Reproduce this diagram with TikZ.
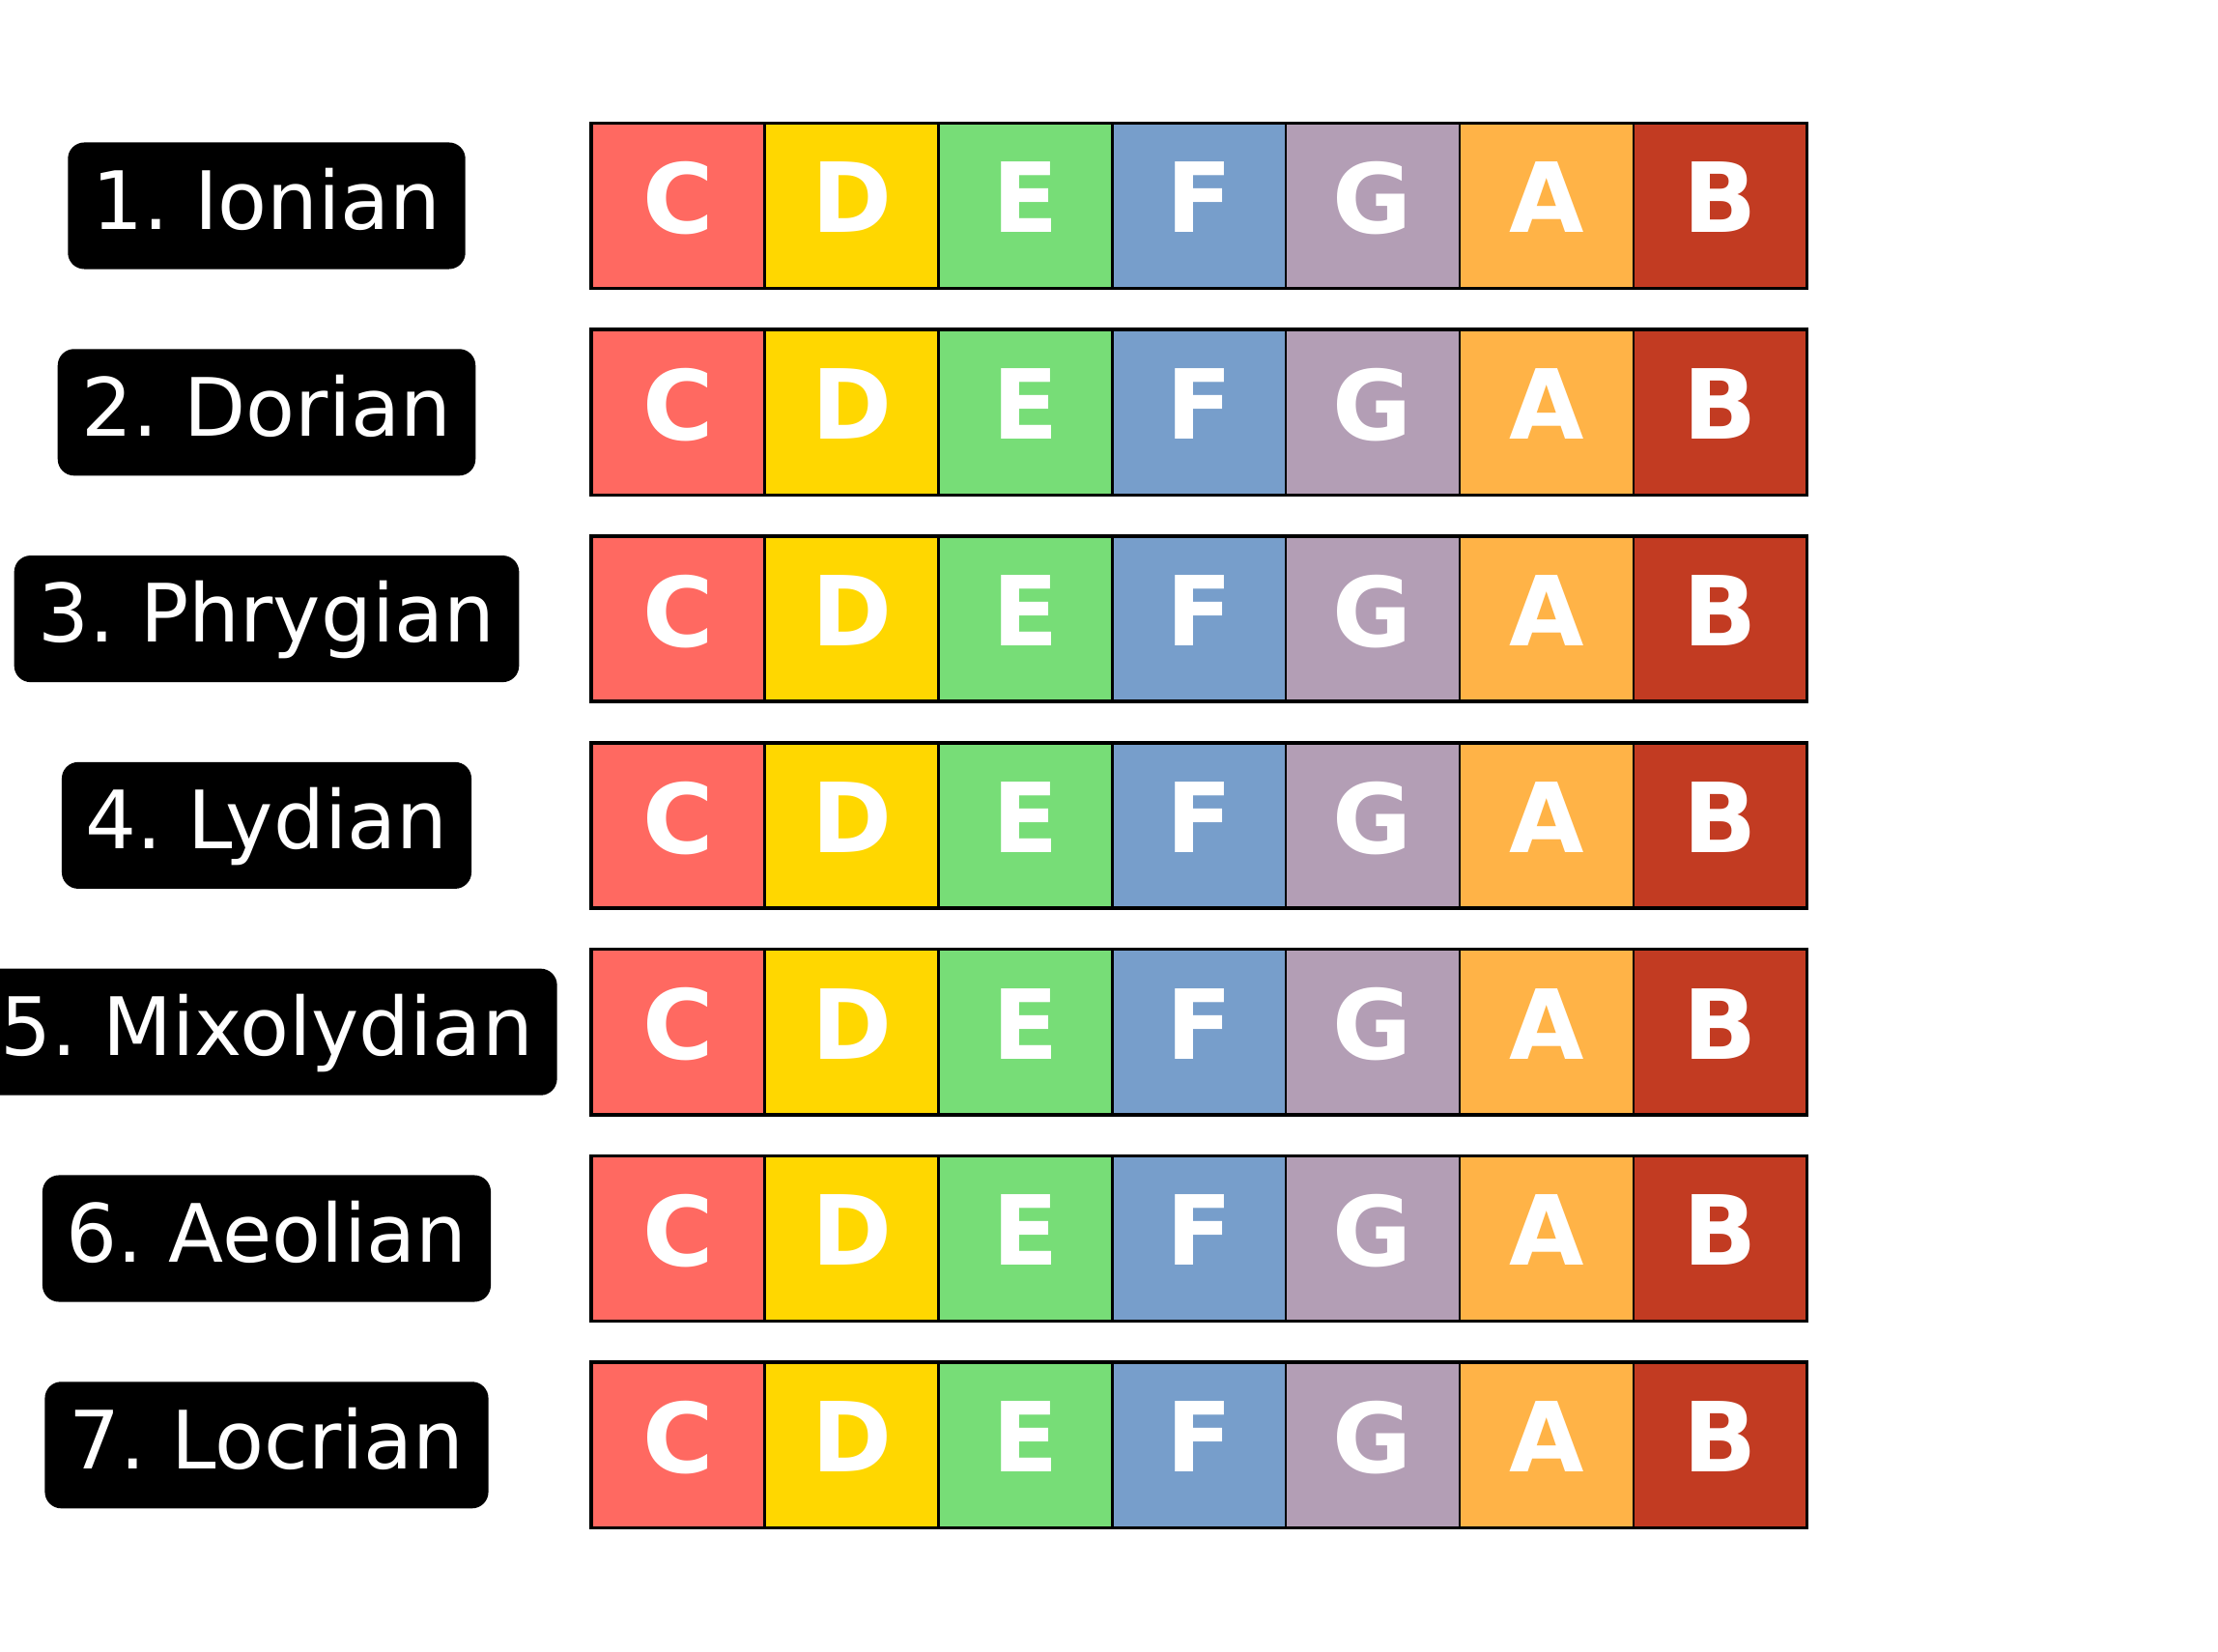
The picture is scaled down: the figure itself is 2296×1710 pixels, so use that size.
\documentclass[tikz,border=0pt]{standalone}
\usepackage{fontspec}
\setmainfont{DejaVu Sans}
\usetikzlibrary{positioning}
\definecolor{rojo}{HTML}{FF6961}
\definecolor{oro}{HTML}{FFD700}
\definecolor{verde}{HTML}{77DD77}
\definecolor{azul}{HTML}{779ECB}
\definecolor{lila}{HTML}{B39EB5}
\definecolor{naranja}{HTML}{FFB347}
\definecolor{granate}{HTML}{C23B22}
\frenchspacing

\begin{document}
\begin{tikzpicture}[x=0.01cm,y=-0.01cm,
      modo/.style={fill=black,text=white,rounded corners=0.17cm,
        inner xsep=0.25cm,minimum height=1.31cm,text depth=0.145cm,
        font=\fontsize{23.7pt}{28pt}\selectfont},
      nota/.style={draw=black,line width=0.7pt,outer sep=0pt,inner sep=0pt,
        minimum width=1.797cm,minimum height=1.71cm,text depth=0.17cm,
        text=white,font=\fontsize{28.45pt}{32pt}\selectfont\bfseries}]
    \useasboundingbox (0,0) rectangle (2296,1710);
    \foreach \k/\escala in {1/Ionian,2/Dorian,3/Phrygian,4/Lydian,
        5/Mixolydian,6/Aeolian,7/Locrian}{
      \pgfmathsetmacro{\yy}{213+213.8*(\k-1)}
      \node[modo] (modo\k) at (276,\yy) {\k. \escala};
      \node[nota,fill=rojo] (n\k-1) at (701.8,\yy) {C};
      \foreach \j/\prev/\nombre/\tono in {2/1/D/oro,3/2/E/verde,4/3/F/azul,
          5/4/G/lila,6/5/A/naranja,7/6/B/granate}{
        \node[nota,fill=\tono,right=0pt of n\k-\prev] (n\k-\j) {\nombre};
      }
      \draw[line width=1pt] (n\k-1.north west) rectangle (n\k-7.south east);
    }
  \end{tikzpicture}
\end{document}
